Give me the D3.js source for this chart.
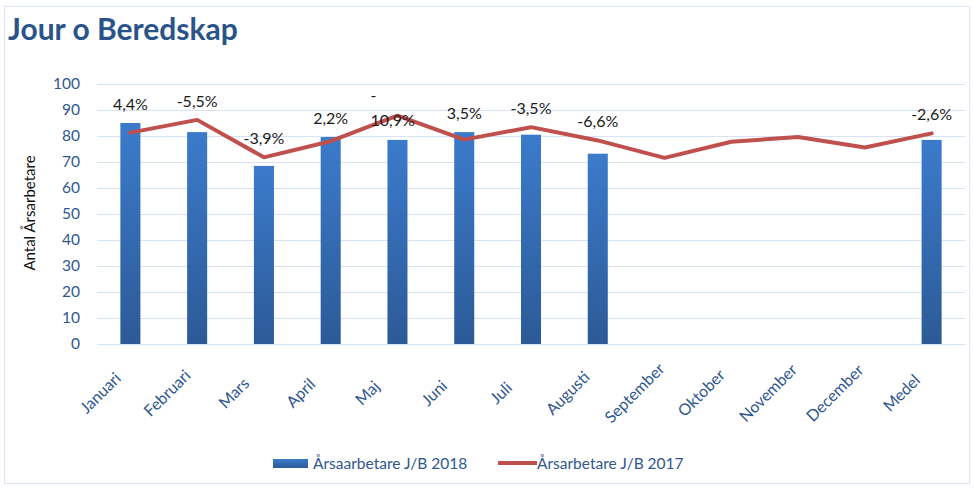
<!DOCTYPE html>
<html>
<head>
<meta charset="utf-8">
<script src="https://cdn.jsdelivr.net/npm/d3@7"></script>
<style>
  body { margin: 0; background: #fff; font-family: Lato, "Open Sans", sans-serif; }
</style>
</head>
<body>
<svg id="chart" width="974" height="488"></svg>
<script>
// ===== Data =====
const categories = ["Januari", "Februari", "Mars", "April", "Maj", "Juni", "Juli", "Augusti",
  "September", "Oktober", "November", "December", "Medel"];
const values2018 = [85, 81.5, 68.5, 79.6, 78.5, 81.5, 80.5, 73.2, null, null, null, null, 78.5];
const values2017 = [81.3, 86.2, 71.8, 78, 87.8, 78.6, 83.4, 78.3, 71.6, 77.8, 79.6, 75.6, 81];
const changeLabels = ["4,4%", "-5,5%", "-3,9%", "2,2%", "-10,9%", "3,5%", "-3,5%", "-6,6%",
  null, null, null, null, "-2,6%"];
const yTicks = [0, 10, 20, 30, 40, 50, 60, 70, 80, 90, 100];

const svg = d3.select("#chart");
const margin = { top: 84, right: 9, bottom: 144, left: 97 };
const width = 974 - margin.left - margin.right;
const height = 488 - margin.top - margin.bottom;

const axisColor = "#2F5790";
const gridColor = "#D7E2F2";

// ram runt diagrammet
svg.append("rect")
  .attr("x", 4.5).attr("y", 6.5)
  .attr("width", 965).attr("height", 477)
  .attr("fill", "none")
  .attr("stroke", "#DCE6F2");

// Titel
svg.append("text")
  .attr("x", 8)
  .attr("y", 40)
  .text("Jour o Beredskap")
  .style("font-family", "Lato, sans-serif")
  .style("font-size", "30px")
  .style("font-weight", "bold")
  .style("fill", "#2A5389");

// gradient för staplarna
const grad = svg.append("defs").append("linearGradient")
  .attr("id", "barGrad")
  .attr("x1", 0).attr("y1", 0).attr("x2", 0).attr("y2", 1);
grad.append("stop").attr("offset", "0%").attr("stop-color", "#3B7BCB");
grad.append("stop").attr("offset", "100%").attr("stop-color", "#2C5A97");

const g = svg.append("g").attr("transform", `translate(${margin.left},${margin.top})`);

const x = d3.scaleBand()
  .domain(categories)
  .range([0, width])
  .paddingInner(0.7)
  .paddingOuter(0.35);

const xCenter = d => x(d) + x.bandwidth() / 2;

const y = d3.scaleLinear()
  .domain([0, 100])
  .range([height, 0]);

// Stödlinjer
g.append("g")
  .selectAll("line")
  .data(yTicks)
  .join("line")
  .attr("x1", 0).attr("x2", width)
  .attr("y1", d => y(d) + 0.5).attr("y2", d => y(d) + 0.5)
  .attr("stroke", gridColor)
  .attr("stroke-width", 1);

// Y-axel
const yAxis = g.append("g")
  .call(d3.axisLeft(y).tickValues(yTicks).tickSize(0).tickPadding(17));
yAxis.select(".domain").remove();
yAxis.selectAll("text")
  .style("font-family", "Lato, sans-serif")
  .style("font-size", "15.5px")
  .style("fill", axisColor);

svg.append("text")
  .attr("transform", `translate(35,${margin.top + height / 2 - 1}) rotate(-90)`)
  .attr("text-anchor", "middle")
  .text("Antal Årsarbetare")
  .style("font-size", "15px")
  .style("fill", "#111");

// Staplar 2018
const barData = categories.map((c, i) => ({ cat: c, v: values2018[i] })).filter(d => d.v != null);
g.append("g")
  .selectAll("rect")
  .data(barData)
  .join("rect")
  .attr("x", d => x(d.cat))
  .attr("y", d => y(d.v))
  .attr("width", x.bandwidth())
  .attr("height", d => height - y(d.v))
  .attr("fill", "url(#barGrad)");

// X-axel, etiketter centrerade och roterade 45 grader
const xAxis = g.append("g")
  .attr("transform", `translate(0,${height})`)
  .call(d3.axisBottom(x).tickSize(0).tickPadding(0));
xAxis.select(".domain").attr("stroke", gridColor);
xAxis.selectAll("text")
  .attr("text-anchor", "middle")
  .attr("y", 0)
  .attr("dy", "0.35em")
  .attr("transform", "translate(-30,49) rotate(-45)")
  .style("font-family", "Lato, sans-serif")
  .style("font-size", "16px")
  .style("fill", axisColor);

// Linje 2017
const lineData = categories.map((c, i) => ({ cat: c, v: values2017[i] }));
g.append("path")
  .datum(lineData)
  .attr("fill", "none")
  .attr("stroke", "#C0504D")
  .attr("stroke-width", 4)
  .attr("stroke-linejoin", "round")
  .attr("stroke-linecap", "round")
  .attr("d", d3.line().x(d => xCenter(d.cat)).y(d => y(d.v)));

// Procentetiketter (förändring)
const labelData = categories.map((c, i) => ({
  cat: c,
  txt: changeLabels[i],
  top: Math.max(values2017[i], values2018[i] || 0)
})).filter(d => d.txt);

const lbl = g.append("g")
  .selectAll("text")
  .data(labelData)
  .join("text")
  .attr("x", d => xCenter(d.cat))
  .attr("y", d => y(d.top) - 13)
  .attr("text-anchor", "middle")
  .style("font-family", "Lato, sans-serif")
  .style("font-size", "16px")
  .style("fill", "#1a1a1a");

// långa etiketter bryts efter minustecknet, som i Excel
lbl.each(function (d) {
  const t = d3.select(this);
  if (d.txt.length > 5) {
    t.attr("text-anchor", "start");
    t.append("tspan").attr("x", xCenter(d.cat) - 27).attr("y", y(d.top) - 15).text(d.txt[0]);
    t.append("tspan").attr("x", xCenter(d.cat) - 27).attr("y", y(d.top) + 10).text(d.txt.slice(1));
  } else {
    t.text(d.txt);
  }
});

// Legend
const legend = svg.append("g").attr("transform", "translate(273,459)");
legend.append("rect")
  .attr("x", 0).attr("y", 0)
  .attr("width", 35).attr("height", 9)
  .attr("fill", "url(#barGrad)");
legend.append("text")
  .attr("x", 40).attr("y", 10)
  .text("Årsaarbetare J/B 2018")
  .style("font-size", "15.5px")
  .style("fill", axisColor);
legend.append("line")
  .attr("x1", 225).attr("x2", 264)
  .attr("y1", 4).attr("y2", 4)
  .attr("stroke", "#C0504D")
  .attr("stroke-width", 4);
legend.append("text")
  .attr("x", 264).attr("y", 10)
  .text("Årsarbetare J/B 2017")
  .style("font-size", "15.5px")
  .style("fill", axisColor);
</script>
</body>
</html>
